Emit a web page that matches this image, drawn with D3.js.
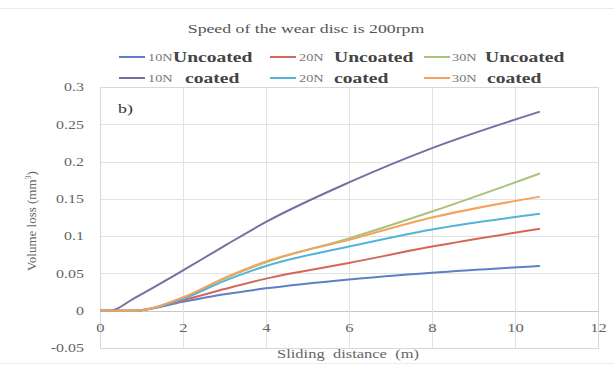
<!DOCTYPE html>
<html><head><meta charset="utf-8">
<script src="https://cdn.jsdelivr.net/npm/d3@7"></script>
<style>body{margin:0;background:#fff}svg{display:block}</style>
</head><body>
<svg id="c" width="614" height="372"></svg>
<script>
const distance = [0, 0.25, 0.8, 2, 3, 4, 6, 8, 10.6];
const s10Uncoated = [0, 0, 0, 0.012, 0.022, 0.030, 0.042, 0.051, 0.060];
const s20Uncoated = [0, 0, 0, 0.014, 0.029, 0.043, 0.064, 0.086, 0.110];
const s30Uncoated = [0, 0, 0, 0.017, 0.043, 0.065, 0.097, 0.133, 0.184];
const s10Coated   = [0, 0, 0.016, 0.054, 0.087, 0.119, 0.172, 0.218, 0.267];
const s20Coated   = [0, 0, 0, 0.016, 0.040, 0.060, 0.086, 0.109, 0.130];
const s30Coated   = [0, 0, 0, 0.018, 0.044, 0.066, 0.095, 0.125, 0.153];
const loads = ["10N","20N","30N","10N","20N","30N"];
const states = ["Uncoated","Uncoated","Uncoated","coated","coated","coated"];
const xTicks = [0, 2, 4, 6, 8, 10, 12];
const yTicks = [-0.05, 0, 0.05, 0.1, 0.15, 0.2, 0.25, 0.3];
const yTickLabels = ["-0.05","0","0.05","0.1","0.15","0.2","0.25","0.3"];

const seriesValues = [s10Uncoated, s20Uncoated, s30Uncoated, s10Coated, s20Coated, s30Coated];
const colors = ["#5f7fc6","#d4665c","#a9c27c","#7d6ba3","#52b4d8","#f3a35e"];

const svg = d3.select("#c");
const serif = "'Liberation Serif','DejaVu Serif',serif";
const L = 100, R = 598, T = 87, B = 348;
const x = d3.scaleLinear().domain([0, 12]).range([L, R]);
const y = d3.scaleLinear().domain([-0.05, 0.3]).range([B, T]);

function stext(px, py, str, size, sx, opts) {
  opts = opts || {};
  const t = svg.append("text")
    .attr("transform", `translate(${px},${py}) scale(${sx},1)`)
    .attr("font-family", serif).attr("font-size", size)
    .attr("fill", opts.fill || "#666")
    .attr("text-anchor", opts.anchor || "start")
    .style("white-space", "pre")
    .text(str);
  if (opts.bold) t.attr("font-weight", "bold");
  return t;
}

// faint frame lines
svg.append("line").attr("x1",0).attr("x2",614).attr("y1",8.5).attr("y2",8.5).attr("stroke","#ececec");
svg.append("line").attr("x1",0).attr("x2",614).attr("y1",363.5).attr("y2",363.5).attr("stroke","#ececec");

// grid
const g = svg.append("g");
g.selectAll(".hg").data(yTicks).join("line")
  .attr("x1", L).attr("x2", R).attr("y1", d => Math.round(y(d))+0.5).attr("y2", d => Math.round(y(d))+0.5)
  .attr("stroke", d => d === 0 ? "#c8c8c8" : "#e2e2e2");
g.selectAll(".vg").data(xTicks).join("line")
  .attr("y1", T).attr("y2", B).attr("x1", d => Math.round(x(d))+0.5).attr("x2", d => Math.round(x(d))+0.5)
  .attr("stroke", "#e2e2e2");
svg.append("rect").attr("x", L+0.5).attr("y", T+0.5).attr("width", R-L).attr("height", B-T)
  .attr("fill","none").attr("stroke","#d8d8d8");

// axes tick labels
const yAxis = svg.append("g").attr("transform", `translate(${L-12},0)`)
  .call(d3.axisLeft(y).tickValues(yTicks).tickFormat((d,i)=>yTickLabels[i]).tickSize(0));
yAxis.select(".domain").remove();
yAxis.selectAll("text").attr("font-family", serif).attr("font-size", 12).attr("fill", "#666")
  .attr("transform", "scale(1.33,1)");

const xAxis = svg.append("g").attr("transform", `translate(0,${y(0)+9})`)
  .call(d3.axisBottom(x).tickValues(xTicks).tickFormat(d3.format("d")).tickSize(0));
xAxis.select(".domain").remove();
xAxis.selectAll("text").attr("font-family", serif).attr("font-size", 12.5).attr("fill", "#666")
  .attr("transform", "scale(1.33,1)");

// lines
const line = d3.line().x((d,i)=>x(distance[i])).y(d=>y(d)).curve(d3.curveMonotoneX);
svg.append("g").selectAll("path").data(seriesValues).join("path")
  .attr("d", line).attr("fill","none").attr("stroke",(d,i)=>colors[i]).attr("stroke-width",2);

// b)
stext(118, 113, "b)", 13, 1.38, {fill:"#333"});

// title
stext(306, 33, "Speed of the wear disc is 200rpm", 12, 1.48, {anchor:"middle", fill:"#555"});

// legend
const legLine = [[119,270,424],[119,270,424]];
const legLoad = [[148,299,452],[148,299,452]];
const legState = [[173,334,485],[185,334,487]];
const legY = [57, 78];
seriesValues.forEach((v, i) => {
  const col = i % 3, row = Math.floor(i / 3);
  const ly = legY[row];
  svg.append("line").attr("x1", legLine[row][col]).attr("x2", legLine[row][col]+26).attr("y1", ly).attr("y2", ly)
    .attr("stroke", colors[i]).attr("stroke-width", 2);
  stext(legLoad[row][col], ly+4, loads[i], 11, 1.3, {fill:"#777"});
  stext(legState[row][col], ly+5, states[i], 14.5, 1.35, {bold:true, fill:"#444"});
});

// axis titles
stext(348, 358, "Sliding  distance  (m)", 13, 1.27, {anchor:"middle"});
const yt = svg.append("text").attr("transform","translate(36,221) rotate(-90)").attr("text-anchor","middle")
  .attr("font-family", serif).attr("font-size", 13).attr("fill","#666");
yt.append("tspan").text("Volume loss (mm");
yt.append("tspan").text("3").attr("font-size", 8).attr("dy", -5);
yt.append("tspan").text(")").attr("dy", 5);
</script>
</body></html>
